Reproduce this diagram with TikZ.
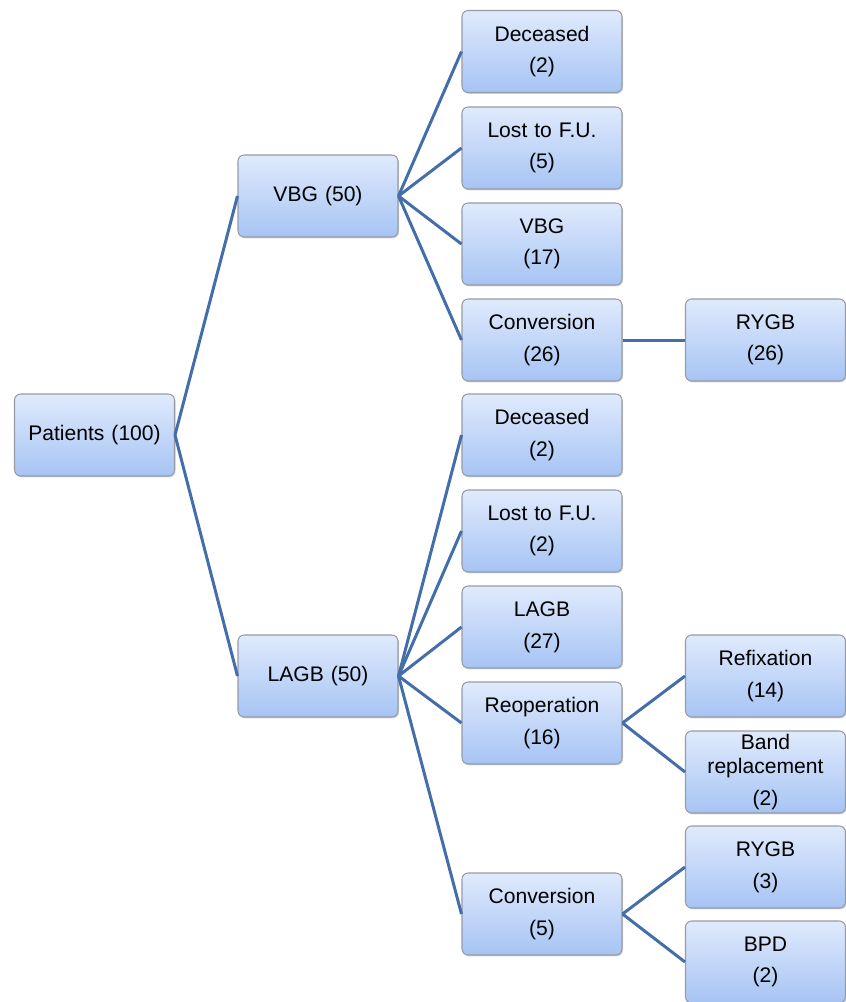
\documentclass[tikz,border=0pt]{standalone}
\usepackage{fontspec}
\setmainfont{Liberation Sans}
\usetikzlibrary{shadows}

\definecolor{boxtop}{RGB}{224,234,252}
\definecolor{boxbot}{RGB}{166,196,244}
\definecolor{boxline}{RGB}{150,155,165}
\definecolor{edgeblue}{RGB}{68,110,170}

\tikzset{
  box/.style={rectangle,rounded corners=3.5pt,draw=boxline,line width=0.6pt,
    top color=boxtop,bottom color=boxbot,
    drop shadow={shadow xshift=0.6pt,shadow yshift=-0.8pt,opacity=0.35},
    minimum width=3.2cm,minimum height=1.64cm,text width=3.1cm,align=center,
    inner sep=0pt,font=\fontsize{12}{18}\selectfont},
  link/.style={draw=edgeblue,line width=1.7pt}
}

\begin{document}
\begin{tikzpicture}[x=0.02cm,y=-0.02cm]
      \useasboundingbox (0,0) rectangle (846,1002);
      \draw
        (94.5, 435) node[box] (0){Patients (100)}
        (318, 196) node[box] (1){VBG (50)}
        (318, 676) node[box] (2){LAGB (50)}
        (542, 51.5) node[box] (3){Deceased\\(2)}
        (542, 148) node[box] (4){Lost to F.U.\\(5)}
        (542, 244) node[box] (5){VBG\\(17)}
        (542, 340) node[box] (6){Conversion\\(26)}
        (542, 435) node[box] (7){Deceased\\(2)}
        (542, 531) node[box] (8){Lost to F.U.\\(2)}
        (542, 627) node[box] (9){LAGB\\(27)}
        (542, 723) node[box] (10){Reoperation\\(16)}
        (542, 914) node[box] (11){Conversion\\(5)}
        (765.5, 340) node[box] (12){RYGB\\(26)}
        (765.5, 676) node[box] (13){Refixation\\(14)}
        (765.5, 772) node[box] (14){Band\\[-4.4pt]replacement\\(2)}
        (765.5, 867) node[box] (15){RYGB\\(3)}
        (765.5, 962) node[box] (16){BPD\\(2)};
      \begin{scope}[link]
        \draw (0.east) -- (1.west);
        \draw (0.east) -- (2.west);
        \draw (1.east) -- (3.west);
        \draw (1.east) -- (4.west);
        \draw (1.east) -- (5.west);
        \draw (1.east) -- (6.west);
        \draw (6.east) -- (12.west);
        \draw (2.east) -- (7.west);
        \draw (2.east) -- (8.west);
        \draw (2.east) -- (9.west);
        \draw (2.east) -- (10.west);
        \draw (2.east) -- (11.west);
        \draw (10.east) -- (13.west);
        \draw (10.east) -- (14.west);
        \draw (11.east) -- (15.west);
        \draw (11.east) -- (16.west);
      \end{scope}
    \end{tikzpicture}
\end{document}
